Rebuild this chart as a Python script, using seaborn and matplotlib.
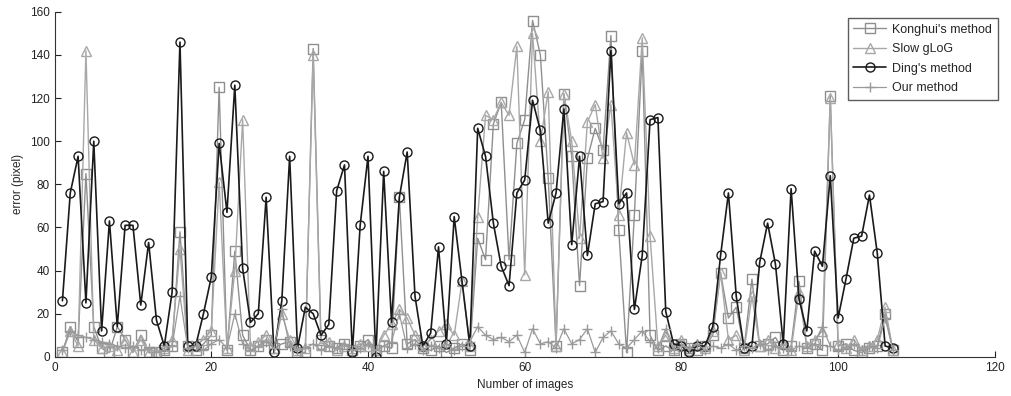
import numpy as np
import pandas as pd
import matplotlib
matplotlib.use("Agg")
import matplotlib.pyplot as plt
import seaborn as sns

sns.set_style("ticks")
plt.rcParams["font.family"] = ["Liberation Sans", "DejaVu Sans"]

images = np.arange(1, 108)

konghui = [2, 14, 7, 85, 14, 4, 2, 14, 8, 2, 10, 2, 2, 3, 5, 58, 5, 3, 6, 10,
           125, 3, 49, 10, 3, 5, 8, 4, 6, 7, 2, 2, 143, 8, 5, 4, 6, 3, 5, 8,
           3, 5, 4, 74, 6, 8, 4, 3, 5, 2, 4, 6, 3, 55, 45, 108, 118, 45, 99, 110,
           156, 140, 83, 5, 122, 93, 33, 92, 106, 96, 149, 59, 2, 66, 142, 10, 3, 5, 3, 6,
           4, 3, 5, 10, 39, 18, 23, 4, 36, 5, 6, 9, 3, 5, 35, 4, 6, 3, 121, 5,
           6, 3, 2, 4, 5, 20, 3]

slow_glog = [2, 12, 5, 142, 8, 4, 5, 3, 8, 2, 8, 2, 2, 4, 8, 50, 3, 5, 8, 12,
             81, 4, 40, 110, 5, 7, 10, 4, 20, 8, 3, 4, 140, 6, 7, 3, 5, 4, 6, 5,
             3, 10, 15, 22, 18, 10, 5, 8, 12, 15, 10, 35, 5, 65, 112, 110, 118, 112, 144, 38,
             150, 100, 123, 5, 122, 100, 55, 109, 117, 92, 117, 66, 104, 89, 148, 56, 5, 10, 4, 8,
             3, 6, 4, 12, 39, 8, 10, 3, 28, 5, 8, 4, 6, 3, 30, 5, 8, 12, 120, 6,
             4, 8, 3, 5, 8, 23, 3]

ding = [26, 76, 93, 25, 100, 12, 63, 14, 61, 61, 24, 53, 17, 5, 30, 146, 5, 5, 20, 37,
        99, 67, 126, 41, 16, 20, 74, 2, 26, 93, 4, 23, 20, 10, 15, 77, 89, 2, 61, 93,
        0, 86, 16, 74, 95, 28, 5, 11, 51, 6, 65, 35, 5, 106, 93, 62, 42, 33, 76, 82,
        119, 105, 62, 76, 115, 52, 93, 47, 71, 72, 142, 71, 76, 22, 47, 110, 111, 21, 6, 5,
        2, 5, 5, 14, 47, 76, 28, 4, 5, 44, 62, 43, 6, 78, 27, 12, 49, 42, 84, 18,
        36, 55, 56, 75, 48, 5, 4]

ours = [3, 12, 10, 9, 8, 7, 6, 5, 4, 5, 3, 4, 2, 3, 5, 28, 4, 5, 3, 6,
        8, 4, 20, 6, 3, 5, 7, 4, 22, 5, 3, 4, 6, 3, 5, 4, 6, 3, 4, 6,
        3, 5, 7, 20, 4, 6, 3, 5, 4, 6, 3, 5, 7, 14, 10, 8, 9, 7, 10, 2,
        13, 6, 7, 4, 13, 6, 8, 13, 2, 9, 12, 6, 4, 8, 12, 7, 4, 13, 3, 5,
        4, 6, 3, 5, 4, 6, 3, 5, 4, 6, 3, 5, 4, 3, 5, 4, 6, 14, 5, 3,
        4, 6, 3, 5, 4, 18, 3]

series = [
    ("Konghui's method", konghui, "#8f8f8f", "s", 1.0),
    ("Slow gLoG", slow_glog, "#a8a8a8", "^", 1.0),
    ("Ding's method", ding, "#1a1a1a", "o", 1.2),
    ("Our method", ours, "#9a9a9a", "+", 0.9),
]

fig = plt.figure(figsize=(10.11, 3.96), dpi=100)
ax = fig.add_axes([0.054, 0.099, 0.930, 0.871])

for name, vals, col, mk, lw in series:
    df = pd.DataFrame({"x": images, "y": vals})
    sns.lineplot(data=df, x="x", y="y", ax=ax, color=col, marker=mk,
                 markersize=6.5, markerfacecolor="none", markeredgecolor=col,
                 markeredgewidth=1.0, linewidth=lw, label=name)

ax.set_xlim(0, 120)
ax.set_ylim(0, 160)
ax.set_xticks(range(0, 121, 20))
ax.set_yticks(range(0, 161, 20))
ax.tick_params(direction="in", length=4, labelsize=8.5, colors="#222222")
for side in ["left", "bottom"]:
    ax.spines[side].set_color("#333333")
sns.despine(ax=ax)
ax.set_xlabel("Number of images", fontsize=8.5)
ax.set_ylabel("error (pixel)", fontsize=8.5)

leg = ax.legend(loc="upper right", bbox_to_anchor=(0.993, 0.970),
                bbox_transform=fig.transFigure, fontsize=9, frameon=True,
                fancybox=False, edgecolor="#333333", handlelength=2.6,
                handletextpad=0.5, borderpad=0.45, labelspacing=0.6)
leg.get_frame().set_linewidth(1.0)

fig.savefig("out.png", dpi=100)
